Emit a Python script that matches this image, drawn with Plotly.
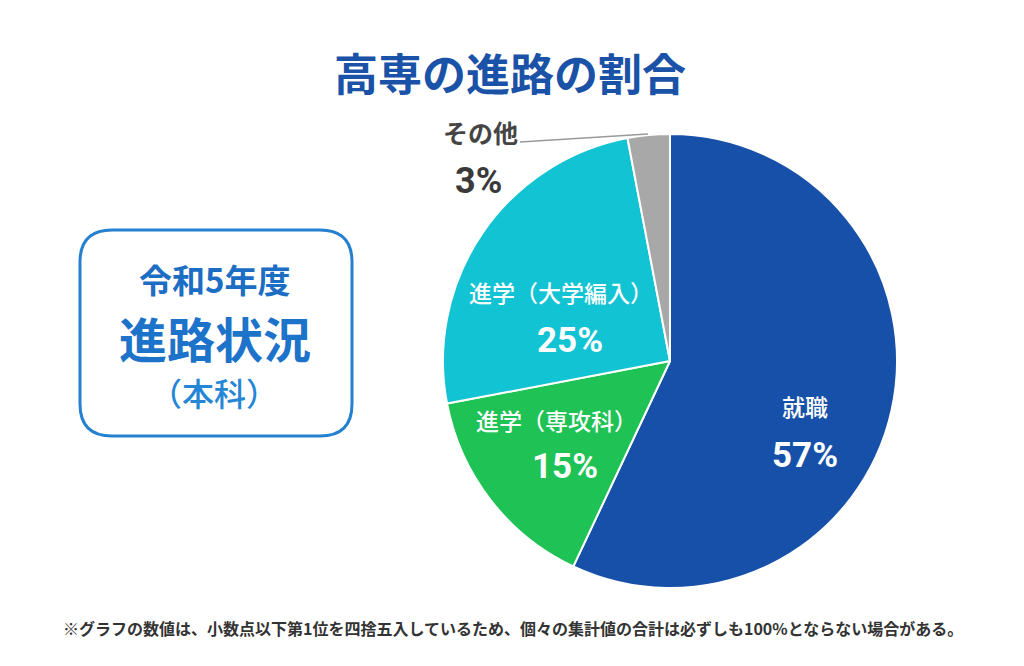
import plotly.graph_objects as go

# data
labels = ['就職', '進学（専攻科）', '進学（大学編入）', 'その他']
values = [57, 15, 25, 3]
colors = ['#1650A8', '#1FC254', '#12C3D3', '#A8A8A8']

title = '高専の進路の割合'
box_lines = ['令和5年度', '進路状況', '（本科）']
note = '※グラフの数値は、小数点以下第1位を四捨五入しているため、個々の集計値の合計は必ずしも100%とならない場合がある。'

JP = 'Noto Sans CJK JP, Roboto, sans-serif'
NUM = 'Roboto, Noto Sans CJK JP, sans-serif'
W, H = 1024, 666

# label placement (pixels): name position, percent position
label_pos = [((805, 406), (805, 455)),
             ((556, 420), (565, 466)),
             ((561, 292), (570, 340)),
             ((480, 132), (478, 181))]

fig = go.Figure()

fig.add_trace(go.Pie(
    labels=labels, values=values,
    sort=False, direction='clockwise', rotation=0,
    marker=dict(colors=colors, line=dict(color='white', width=2)),
    textinfo='none', hoverinfo='label+percent',
    showlegend=False,
    domain=dict(x=[(670 - 227) / W, (670 + 227) / W], y=[(H - 588) / H, (H - 134) / H]),
))

ann = [
    dict(text='<b>' + title + '</b>', x=510, y=72,
         font=dict(family=JP, size=44, color='#1A52A8')),
    dict(text='<b>' + box_lines[0] + '</b>', x=214, y=279,
         font=dict(family=JP, size=33, color='#1C6DC4')),
    dict(text='<b>' + box_lines[1] + '</b>', x=215, y=337,
         font=dict(family=JP, size=48, color='#1C73C9')),
    dict(text=box_lines[2], x=214, y=392,
         font=dict(family=JP, size=32, color='#2586D6', weight=500)),
    dict(text='<b>' + note + '</b>', x=513, y=628,
         font=dict(family=JP, size=16, color='#333333')),
]
for i, lab in enumerate(labels):
    (lx, ly), (px_, py_) = label_pos[i]
    dark = i == 3
    ann.append(dict(text=('<b>' + lab + '</b>') if dark else lab, x=lx, y=ly,
                    font=dict(family=JP, size=25 if dark else 23,
                              color='#444444' if dark else 'white', weight=700 if dark else 500)))
    ann.append(dict(text='<b>%d%%</b>' % values[i], x=px_, y=py_,
                    font=dict(family=NUM, size=36 if dark else 35,
                              color='#3A3A3A' if dark else 'white')))
for a in ann:
    a.update(xref='x', yref='y', showarrow=False, xanchor='center', yanchor='middle')

# rounded box
x0, x1, y0, y1, r = 80, 352, 230, 436, 32
path = (f'M {x0 + r},{y0} L {x1 - r},{y0} Q {x1},{y0} {x1},{y0 + r} '
        f'L {x1},{y1 - r} Q {x1},{y1} {x1 - r},{y1} L {x0 + r},{y1} '
        f'Q {x0},{y1} {x0},{y1 - r} L {x0},{y0 + r} Q {x0},{y0} {x0 + r},{y0} Z')

fig.update_layout(
    width=W, height=H,
    margin=dict(l=0, r=0, t=0, b=0),
    paper_bgcolor='white', plot_bgcolor='white',
    xaxis=dict(range=[0, W], visible=False, fixedrange=True),
    yaxis=dict(range=[H, 0], visible=False, fixedrange=True),
    annotations=ann,
    shapes=[
        dict(type='path', path=path, xref='x', yref='y', layer='below',
             line=dict(color='#2580D0', width=3), fillcolor='rgba(0,0,0,0)'),
        dict(type='line', xref='x', yref='y', x0=520, y0=142, x1=648, y1=134,
             line=dict(color='#9A9A9A', width=1.5)),
    ],
)

fig.write_html('out.html', config={'displayModeBar': False},
               post_script="document.body.style.margin='0';")
